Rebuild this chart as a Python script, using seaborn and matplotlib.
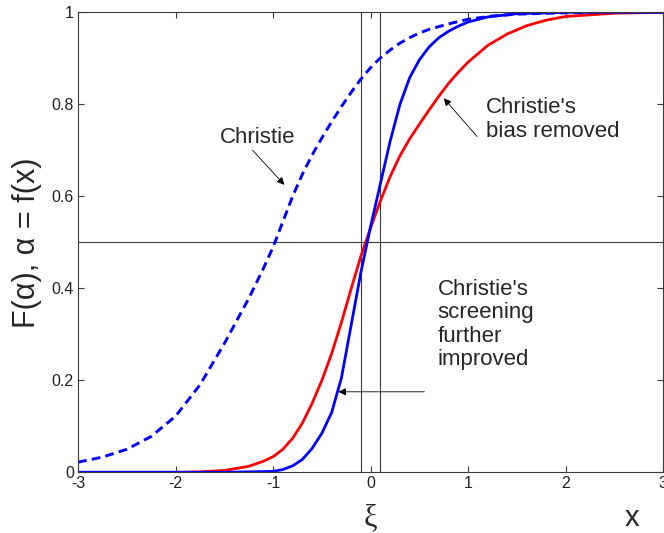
import matplotlib
matplotlib.use('Agg')
import matplotlib.pyplot as plt
import seaborn as sns
import pandas as pd

# values
x_christie = [-3.0, -2.75, -2.5, -2.25, -2.0, -1.75, -1.5, -1.25, -1.1, -1.0, -0.9, -0.8,
              -0.7, -0.6, -0.5, -0.4, -0.3, -0.2, -0.1, 0.0, 0.1, 0.2, 0.3, 0.4, 0.5,
              0.6, 0.8, 1.0, 1.25, 1.5, 2.0, 2.5, 3.0]
y_christie = [0.022, 0.033, 0.050, 0.078, 0.122, 0.19, 0.28, 0.378, 0.443, 0.49, 0.545, 0.60,
              0.648, 0.69, 0.727, 0.762, 0.795, 0.826, 0.855, 0.88, 0.901, 0.918, 0.933, 0.945,
              0.955, 0.963, 0.975, 0.985, 0.992, 0.996, 0.999, 1.0, 1.0]

x_bias = [-3.0, -2.0, -1.75, -1.5, -1.25, -1.1, -1.0, -0.9, -0.8, -0.7, -0.6, -0.5, -0.4,
          -0.3, -0.2, -0.1, 0.0, 0.1, 0.2, 0.3, 0.4, 0.5, 0.6, 0.7, 0.8, 0.9, 1.0, 1.2,
          1.4, 1.6, 1.8, 2.0, 2.5, 3.0]
y_bias = [0.0, 0.0, 0.001, 0.004, 0.013, 0.024, 0.034, 0.05, 0.074, 0.107, 0.15, 0.2, 0.258,
          0.326, 0.399, 0.47, 0.532, 0.59, 0.643, 0.688, 0.725, 0.757, 0.788, 0.818, 0.846,
          0.87, 0.892, 0.928, 0.953, 0.971, 0.983, 0.991, 0.998, 1.0]

x_screen = [-3.0, -1.5, -1.0, -0.9, -0.8, -0.7, -0.6, -0.5, -0.4, -0.3, -0.2, -0.1, 0.0,
            0.1, 0.2, 0.3, 0.4, 0.5, 0.6, 0.7, 0.8, 0.9, 1.0, 1.2, 1.5, 2.0, 3.0]
y_screen = [0.0, 0.0, 0.002, 0.006, 0.014, 0.028, 0.052, 0.085, 0.13, 0.205, 0.32, 0.435, 0.535,
            0.628, 0.72, 0.80, 0.858, 0.897, 0.925, 0.945, 0.959, 0.97, 0.979, 0.99, 0.997,
            1.0, 1.0]

xi_lines = [-0.1, 0.1]
half_line = 0.5
x_ticks = [-3, -2, -1, 0, 1, 2, 3]
x_ticklabels = ['-3', '-2', '-1', '0', '1', '2', '3']
y_ticks = [0, 0.2, 0.4, 0.6, 0.8, 1]
y_ticklabels = ['0', '0.2', '0.4', '0.6', '0.8', '1']

sns.set_style('ticks')
plt.rcParams['font.family'] = ['Liberation Sans', 'DejaVu Sans']
plt.rcParams['axes.unicode_minus'] = False

fig = plt.figure(figsize=(6.64, 5.33), dpi=100)
ax = fig.add_axes([0.1175, 0.1139, 0.8815, 0.863])

frame_col = '#3a3a3a'
for xv in xi_lines:
    ax.axvline(xv, color=frame_col, lw=0.8, zorder=1)
ax.axhline(half_line, color=frame_col, lw=0.8, zorder=1)

df_c = pd.DataFrame({'x': x_christie, 'F': y_christie})
df_b = pd.DataFrame({'x': x_bias, 'F': y_bias})
df_s = pd.DataFrame({'x': x_screen, 'F': y_screen})
sns.lineplot(data=df_c, x='x', y='F', color='#0000ff', lw=2.1, linestyle=(0, (3, 1.8)), ax=ax)
sns.lineplot(data=df_b, x='x', y='F', color='#ff0000', lw=2.0, ax=ax)
sns.lineplot(data=df_s, x='x', y='F', color='#0000ff', lw=2.0, ax=ax)

ax.set_xlim(-3, 3)
ax.set_ylim(0, 1)
ax.set_xticks(x_ticks)
ax.set_xticklabels(x_ticklabels)
ax.set_yticks(y_ticks)
ax.set_yticklabels(y_ticklabels)
ax.tick_params(direction='in', length=4.5, width=0.8, color=frame_col, labelsize=11.5,
               labelcolor='#202020', top=True, right=True, pad=3)
for sp in ax.spines.values():
    sp.set_color(frame_col)
    sp.set_linewidth(0.8)

ax.set_xlabel('')
ax.set_ylabel('F(α), α = f(x)', fontsize=22)
ax.yaxis.set_label_coords(-0.062, 0.5)

arrow = dict(arrowstyle='-|>', color='black', lw=0.6, mutation_scale=11, shrinkA=0, shrinkB=0)
ax.text(-1.16, 0.716, 'Christie', fontsize=16, ha='center', va='baseline')
ax.annotate('', xy=(-0.885, 0.625), xytext=(-1.21, 0.70), arrowprops=arrow)

ax.text(1.18, 0.73, "Christie's\nbias removed", fontsize=16, ha='left', va='baseline',
        linespacing=1.15)
ax.annotate('', xy=(0.75, 0.813), xytext=(1.09, 0.73), arrowprops=arrow)

ax.text(0.684, 0.233, "Christie's\nscreening\nfurther\nimproved", fontsize=16, ha='left',
        va='baseline', linespacing=1.15)
ax.annotate('', xy=(-0.33, 0.175), xytext=(0.55, 0.175), arrowprops=arrow)

ax.text(0.0, -0.099, 'ξ', fontsize=22, family='Liberation Serif', ha='center', va='center')
ax.text(2.68, -0.099, 'x', fontsize=21, ha='center', va='center')

fig.savefig('out.png', dpi=100)
